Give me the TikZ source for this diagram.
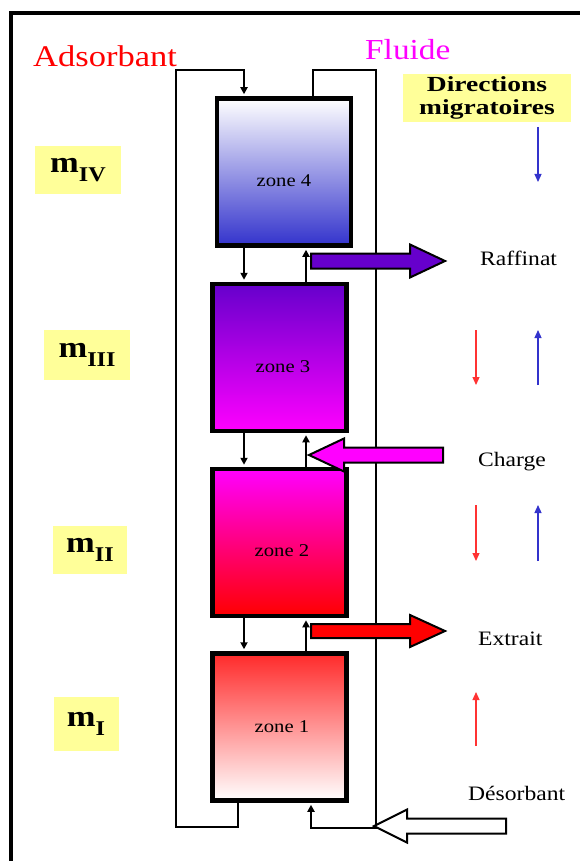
\documentclass[tikz,border=0pt]{standalone}
\usepackage{fontspec}
\setmainfont{Liberation Serif}[FakeStretch=1.15]
\usepackage{tikz}
\usetikzlibrary{arrows.meta, positioning, calc}
\definecolor{zoneblue}{HTML}{3333CC}
\definecolor{zonepurple}{HTML}{6600CC}
\definecolor{zonemagenta}{HTML}{FF00FF}
\definecolor{zonered}{HTML}{FF0000}
\definecolor{zonelightred}{HTML}{FF2A2A}
\definecolor{paleyellow}{HTML}{FFFF99}
\definecolor{dirred}{HTML}{FF3333}
\definecolor{dirblue}{HTML}{3333CC}
\newcommand{\msub}[1]{m\raisebox{-0.28em}{\fontsize{21}{21}\selectfont #1}}
\tikzset{
    zone/.style={rectangle, draw=black, line width=4.5pt, minimum width=134pt, minimum height=147pt, inner sep=0pt},
    zonetext/.style={font=\fontsize{18}{20}\selectfont},
    tag/.style={fill=paleyellow, inner sep=0pt, font=\bfseries\fontsize{30}{30}\selectfont},
    flowtext/.style={anchor=base west, inner sep=0pt, font=\fontsize{20.5}{22}\selectfont},
    pipe/.style={line width=1.8pt, draw=black},
    arrow/.style={pipe, -{Triangle[length=7pt, width=7pt]}, shorten >=2pt},
    fatarrow/.style={draw=black, line width=2pt, line join=miter},
    dirarrow/.style={line width=1.2pt, -{Triangle[length=8pt, width=7pt]}}
}
\begin{document}
\begin{tikzpicture}[x=1pt, y=-1pt]
    \useasboundingbox (0,0) rectangle (580,861);
    \draw[line width=4pt] (11,861) -- (11,13) -- (580,13);

    % columns and loop corners
    \coordinate (adsx) at (244,0);
    \coordinate (flx) at (306,0);
    \coordinate (adsleft) at (176,0);
    \coordinate (flright) at (376,0);
    \coordinate (adsin) at (244,70);
    \coordinate (adsout) at (238,827);
    \coordinate (flout) at (313,70);
    \coordinate (flin) at (311,828);

    % zones
    \node[zone, top color=white, bottom color=zoneblue] (z4) at (284,172) {};
    \node[zone, top color=zonepurple, bottom color=zonemagenta] (z3) at (279.5,357.5) {};
    \node[zone, top color=zonemagenta, bottom color=zonered] (z2) at (279.5,542.5) {};
    \node[zone, top color=zonelightred, bottom color=white] (z1) at (279.5,727) {};
    \node[zonetext] (l4) at (284,181) {zone 4};
    \node[zonetext] (l3) at (283,367) {zone 3};
    \node[zonetext] (l2) at (282,551) {zone 2};
    \node[zonetext] (l1) at (282,727) {zone 1};

    % adsorbant loop
    \draw[arrow] (z1.south -| adsout) -- (adsout) -| (adsleft |- adsin) -- (adsin) -- (z4.north -| adsin);
    \draw[arrow] (z4.south -| adsx) -- (z3.north -| adsx);
    \draw[arrow] (z3.south -| adsx) -- (z2.north -| adsx);
    \draw[arrow] (z2.south -| adsx) -- (z1.north -| adsx);

    % fluide loop
    \draw[arrow] (z4.north -| flout) -- (flout) -| (flright |- flin) -- (flin) -- (z1.south -| flin);
    \draw[arrow] (z3.north -| flx) -- (z4.south -| flx);
    \draw[arrow] (z2.north -| flx) -- (z3.south -| flx);
    \draw[arrow] (z1.north -| flx) -- (z2.south -| flx);

    % inlets and outlets
    \coordinate (raffarrow) at (311,261);
    \coordinate (chargearrow) at (443,455);
    \coordinate (extarrow) at (311,631);
    \coordinate (desarrow) at (506,826);
    \draw[fatarrow, fill=zonepurple] (raffarrow) ++(0,-7.5) -- ++(99,0) -- ++(0,-9) -- ++(35,16.5) -- ++(-35,16.5) -- ++(0,-9) -- ++(-99,0) -- cycle;
    \draw[fatarrow, fill=zonemagenta] (chargearrow) ++(0,-7.5) -- ++(-99,0) -- ++(0,-9) -- ++(-35,16.5) -- ++(35,16.5) -- ++(0,-9) -- ++(99,0) -- cycle;
    \draw[fatarrow, fill=zonered] (extarrow) ++(0,-7) -- ++(99,0) -- ++(0,-9) -- ++(35,16) -- ++(-35,16) -- ++(0,-9) -- ++(-99,0) -- cycle;
    \draw[fatarrow, fill=white] (desarrow) ++(0,-7.5) -- ++(-99,0) -- ++(0,-9) -- ++(-33,16.5) -- ++(33,16.5) -- ++(0,-9) -- ++(99,0) -- cycle;
    \node[flowtext] (raff) at (480,265) {Raffinat};
    \node[flowtext] (charge) at (478,466) {Charge};
    \node[flowtext] (extrait) at (478,645) {Extrait};
    \node[flowtext] (desorb) at (468,800) {Désorbant};

    % titles
    \node[anchor=base west, inner sep=0pt, text=red, font=\fontsize{30}{32}\selectfont] (ads) at (33,67) {Adsorbant};
    \node[anchor=base west, inner sep=0pt, text=zonemagenta, font=\fontsize{29}{31}\selectfont] (fluide) at (365,60) {Fluide};
    \node[tag, minimum width=168pt, minimum height=48pt, align=center, font=\bfseries\fontsize{21.5}{22.5}\selectfont\addfontfeature{FakeStretch=1.28}] (dirs) at (487,98) {Directions\\migratoires};

    % flow ratios
    \node[tag, minimum width=86pt, minimum height=47pt] (m4) at (78,170) {\msub{IV}};
    \node[tag, minimum width=86pt, minimum height=50pt] (m3) at (87,355) {\msub{III}};
    \node[tag, minimum width=74pt, minimum height=48pt] (m2) at (90,550) {\msub{II}};
    \node[tag, minimum width=65pt, minimum height=54pt] (m1) at (86,724) {\msub{I}};

    % migration directions
    \coordinate (b4a) at (538,127);
    \coordinate (b4b) at (538,182);
    \coordinate (r3a) at (476,330);
    \coordinate (r3b) at (476,385);
    \coordinate (b3a) at (538,385);
    \coordinate (b3b) at (538,330);
    \coordinate (r2a) at (476,505);
    \coordinate (r2b) at (476,561);
    \coordinate (b2a) at (538,561);
    \coordinate (b2b) at (538,505);
    \coordinate (r1a) at (476,746);
    \coordinate (r1b) at (476,692);
    \draw[dirarrow, dirblue] (b4a) -- (b4b);
    \draw[dirarrow, dirred] (r3a) -- (r3b);
    \draw[dirarrow, dirblue] (b3a) -- (b3b);
    \draw[dirarrow, dirred] (r2a) -- (r2b);
    \draw[dirarrow, dirblue] (b2a) -- (b2b);
    \draw[dirarrow, dirred] (r1a) -- (r1b);
\end{tikzpicture}
\end{document}
